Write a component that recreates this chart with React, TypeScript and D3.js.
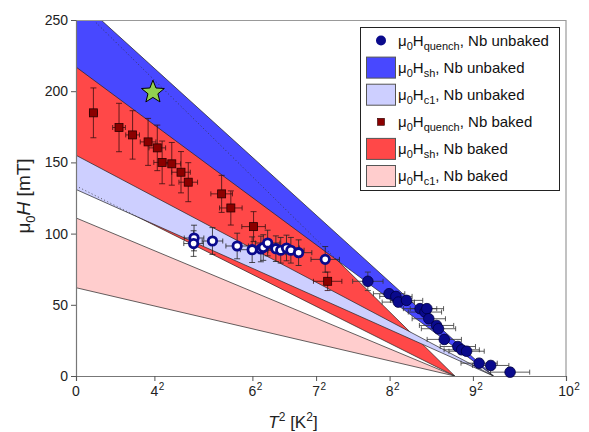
import React, { useRef, useEffect } from "react";
import * as d3 from "d3";

// band edges: H at T=0 (mT) for [lower, upper], converging at Tc^2
const tc2Unbaked = 85.2;
const tc2Baked = 77.3;
const hshUnbaked = [217, 266];
const hc1Unbaked = [131, 155];
const hshBaked = [133.5, 262];
const hc1Baked = [62, 111];

// [T^2, H, xErr, yErr]
const bakedQuench = [
  [3.55, 184.8, 0.8, 17.5],
  [8.78, 174.5, 1.3, 17],
  [11.55, 169.3, 1.4, 17],
  [14.71, 164.4, 1.6, 16.5],
  [16.59, 160.2, 1.7, 16],
  [17.58, 150.0, 1.7, 15],
  [19.55, 149.0, 1.8, 15],
  [21.43, 143.1, 1.9, 14.5],
  [22.91, 136.1, 1.9, 13.7],
  [29.72, 127.9, 2.2, 13],
  [31.6, 118.0, 2.3, 12],
  [36.24, 104.9, 2.4, 10.5],
  [51.36, 66.5, 2.9, 6.5],
];

const unbakedRing = [
  [24.09, 96.9, 2.0, 9],
  [24.0, 93.0, 2.0, 9],
  [27.85, 94.8, 2.1, 9.4],
  [32.89, 91.3, 2.3, 9],
  [35.95, 88.7, 2.4, 9],
  [37.73, 89.2, 2.5, 9],
  [38.22, 90.2, 2.5, 9],
  [39.11, 93.4, 2.5, 9],
  [40.79, 89.4, 2.6, 9],
  [41.78, 88.3, 2.6, 9],
  [42.96, 89.9, 2.6, 9],
  [43.85, 88.3, 2.7, 9],
  [45.43, 86.6, 2.7, 9],
  [50.86, 81.9, 2.9, 9],
];

const unbakedQuench = [
  [59.56, 66.5, 3.1, 6.5],
  [63.9, 57.8, 3.2, 3],
  [65.29, 55.9, 3.3, 3],
  [65.78, 51.9, 3.3, 3],
  [67.46, 53.1, 3.3, 3],
  [70.22, 47.3, 3.4, 3],
  [71.21, 44.9, 3.4, 3],
  [71.61, 47.3, 3.4, 3],
  [72.0, 40.2, 3.4, 3],
  [73.58, 35.5, 3.5, 3],
  [73.98, 33.2, 3.5, 3],
  [75.16, 25.7, 3.5, 3],
  [77.93, 20.7, 3.6, 3],
  [78.72, 18.4, 3.6, 3],
  [79.71, 17.4, 3.6, 3],
  [82.27, 9.0, 3.7, 3],
  [84.64, 7.4, 3.7, 3],
  [88.59, 2.7, 4.0, 3],
];

const starPoint = [15.7, 199.3];

const xTicks = [0, 16, 36, 49, 64, 81, 100];
const xTickBase = ["0", "4", "6", "7", "8", "9", "10"];
const yTicks = [0, 50, 100, 150, 200, 250];

const legendItems = [
  { kind: "circle", sub: "quench", label: ", Nb unbaked", color: "#0a0a8c" },
  { kind: "rect", sub: "sh", label: ", Nb unbaked", color: "#4848ff" },
  { kind: "rect", sub: "c1", label: ", Nb unbaked", color: "#cdcfff" },
  { kind: "square", sub: "quench", label: ", Nb baked", color: "#8b0000" },
  { kind: "rect", sub: "sh", label: ", Nb baked", color: "#ff4848" },
  { kind: "rect", sub: "c1", label: ", Nb baked", color: "#ffcdcd" },
];

const FONT = "'Liberation Sans', Arial, Helvetica, sans-serif";

const App = () => {
  const svgRef = useRef<SVGSVGElement>(null);

  useEffect(() => {
    document.body.style.margin = "0";
    const width = 589;
    const height = 432;
    const svg = d3.select(svgRef.current).attr("width", width).attr("height", height);
    svg.selectAll("*").remove();

    const x = d3.scaleLinear().domain([0, 100]).range([76, 566]);
    const y = d3.scaleLinear().domain([0, 250]).range([376, 20]);

    const defs = svg.append("defs");
    defs.append("clipPath").attr("id", "plotClip")
      .append("rect").attr("x", x(0)).attr("y", y(250))
      .attr("width", x(100) - x(0)).attr("height", y(0) - y(250));

    const tri = (edges, tc2) => [
      [x(0), y(edges[1])],
      [x(tc2), y(0)],
      [x(0), y(edges[0])],
    ];
    const poly = (pts) => "M" + pts.map((p) => p.join(",")).join("L") + "Z";

    defs.append("clipPath").attr("id", "blueClip")
      .append("path").attr("d", poly(tri(hshUnbaked, tc2Unbaked)));
    defs.append("clipPath").attr("id", "lightBlueClip")
      .append("path").attr("d", poly(tri(hc1Unbaked, tc2Unbaked)));

    const g = svg.append("g").attr("clip-path", "url(#plotClip)");

    const band = (edges, tc2, fill) => {
      g.append("path")
        .attr("d", poly(tri(edges, tc2)))
        .attr("fill", fill)
        .attr("stroke", "#222")
        .attr("stroke-width", 0.7);
    };
    // hidden edge of the baked band, shown dotted through the band on top
    const edgeLine = (h0, tc2, clip) => {
      g.append("g").attr("clip-path", `url(#${clip})`)
        .append("line")
        .attr("x1", x(0)).attr("y1", y(h0))
        .attr("x2", x(tc2)).attr("y2", y(0))
        .attr("stroke", "#333")
        .attr("stroke-width", 0.8)
        .attr("stroke-dasharray", "1,2.5");
    };

    band(hshBaked, tc2Baked, "#ff4848");
    band(hshUnbaked, tc2Unbaked, "#4848ff");
    edgeLine(hshBaked[1], tc2Baked, "blueClip");
    band(hc1Unbaked, tc2Unbaked, "#cdcfff");
    edgeLine(hshBaked[0], tc2Baked, "lightBlueClip");
    band(hc1Baked, tc2Baked, "#ffcdcd");

    // frame + axes
    svg.append("line").attr("x1", x(0)).attr("x2", x(100)).attr("y1", 20.5).attr("y2", 20.5)
      .attr("stroke", "#999").attr("stroke-width", 1.2);
    svg.append("line").attr("x1", x(100)).attr("x2", x(100)).attr("y1", 20).attr("y2", 376)
      .attr("stroke", "#999").attr("stroke-width", 1.2);

    const yAxis = svg.append("g").attr("transform", `translate(${x(0)},0)`)
      .call(d3.axisLeft(y).tickValues(yTicks).tickSize(5).tickPadding(3));
    const xAxis = svg.append("g").attr("transform", `translate(0,${y(0)})`)
      .call(d3.axisBottom(x).tickValues(xTicks).tickSize(5).tickPadding(4).tickFormat(() => ""));
    [yAxis, xAxis].forEach((a) => {
      a.select(".domain").attr("stroke", "#777").attr("stroke-width", 1.2);
      a.selectAll(".tick line").attr("stroke", "#555");
    });
    yAxis.selectAll("text").attr("font-family", FONT).attr("font-size", 14).attr("fill", "#222");

    xTicks.forEach((t, i) => {
      const base = svg.append("text")
        .attr("x", x(t)).attr("y", 396)
        .attr("text-anchor", "middle")
        .attr("font-family", FONT).attr("font-size", 14).attr("fill", "#222")
        .text(xTickBase[i]);
      if (i > 0) {
        const w = (base.node() as SVGTextElement).getComputedTextLength();
        svg.append("text")
          .attr("x", x(t) + w / 2 + 0.5).attr("y", 390)
          .attr("font-family", FONT).attr("font-size", 10).attr("fill", "#222")
          .text("2");
      }
    });

    // axis titles
    const xt = svg.append("text")
      .attr("x", 293).attr("y", 428)
      .attr("text-anchor", "middle")
      .attr("font-family", FONT).attr("font-size", 17).attr("fill", "#222");
    xt.append("tspan").attr("font-style", "italic").text("T");
    xt.append("tspan").attr("dy", -7).attr("font-size", 12).text("2");
    xt.append("tspan").attr("dy", 7).text(" [K");
    xt.append("tspan").attr("dy", -7).attr("font-size", 12).text("2");
    xt.append("tspan").attr("dy", 7).text("]");

    const yt = svg.append("text")
      .attr("transform", `translate(30,196) rotate(-90)`)
      .attr("text-anchor", "middle")
      .attr("font-family", FONT).attr("font-size", 19).attr("fill", "#222");
    yt.append("tspan").text("\u03bc");
    yt.append("tspan").attr("dy", 5).attr("font-size", 13).text("0");
    yt.append("tspan").attr("dy", -5).attr("font-style", "italic").text("H");
    yt.append("tspan").text(" [mT]");

    // error bars
    const errBars = (data, color) => {
      const eg = svg.append("g").attr("stroke", color).attr("stroke-width", 0.8).attr("fill", "none");
      data.forEach(([t, h, dx, dy]) => {
        const cx = x(t), cy = y(h);
        const x0 = x(t - dx), x1 = x(t + dx), y0 = y(h - dy), y1 = y(h + dy);
        eg.append("path").attr("d",
          `M${x0},${cy}H${x1}M${x0},${cy - 2.5}V${cy + 2.5}M${x1},${cy - 2.5}V${cy + 2.5}` +
          `M${cx},${y0}V${y1}M${cx - 3},${y0}H${cx + 3}M${cx - 3},${y1}H${cx + 3}`);
      });
    };
    errBars(bakedQuench, "#3a1010");
    errBars(unbakedRing, "#222");
    errBars(unbakedQuench, "#333");

    svg.append("g").selectAll("rect").data(bakedQuench).enter().append("rect")
      .attr("x", (d) => x(d[0]) - 4).attr("y", (d) => y(d[1]) - 4)
      .attr("width", 8).attr("height", 8)
      .attr("fill", "#8b0000").attr("stroke", "#2a0000").attr("stroke-width", 0.8);

    svg.append("g").selectAll("circle").data(unbakedRing).enter().append("circle")
      .attr("cx", (d) => x(d[0])).attr("cy", (d) => y(d[1])).attr("r", 4.2)
      .attr("fill", "#fff").attr("stroke", "#0a0a8c").attr("stroke-width", 2.8);

    svg.append("g").selectAll("circle").data(unbakedQuench).enter().append("circle")
      .attr("cx", (d) => x(d[0])).attr("cy", (d) => y(d[1])).attr("r", 5.3)
      .attr("fill", "#0a0a8c").attr("stroke", "#000040").attr("stroke-width", 0.8);

    // star
    const sx = x(starPoint[0]), sy = y(starPoint[1]);
    const starPts = d3.range(10).map((i) => {
      const r = i % 2 === 0 ? 12 : 5.2;
      const a = -Math.PI / 2 + (i * Math.PI) / 5;
      return [sx + r * Math.cos(a), sy + r * Math.sin(a)];
    });
    svg.append("path").attr("d", poly(starPts))
      .attr("fill", "#92d050").attr("stroke", "#000").attr("stroke-width", 1);

    // legend
    const lg = svg.append("g");
    lg.append("rect").attr("x", 360.5).attr("y", 27.5).attr("width", 199).attr("height", 163)
      .attr("fill", "#fff").attr("stroke", "#222").attr("stroke-width", 1);
    legendItems.forEach((it, i) => {
      const cy = 40.5 + i * 27.1;
      if (it.kind === "circle") {
        lg.append("circle").attr("cx", 381).attr("cy", cy).attr("r", 5).attr("fill", it.color);
      } else if (it.kind === "square") {
        lg.append("rect").attr("x", 377.5).attr("y", cy - 3.5).attr("width", 7).attr("height", 7)
          .attr("fill", it.color).attr("stroke", "#2a0000").attr("stroke-width", 0.6);
      } else {
        lg.append("rect").attr("x", 366.5).attr("y", cy - 10.5).attr("width", 29).attr("height", 21)
          .attr("fill", it.color).attr("stroke", "#555").attr("stroke-width", 1);
      }
      const tx = lg.append("text").attr("x", 398).attr("y", cy + 5)
        .attr("font-family", FONT).attr("font-size", 15).attr("fill", "#111");
      tx.append("tspan").text("\u03bc");
      tx.append("tspan").attr("dy", 4).attr("font-size", 11).text("0");
      tx.append("tspan").attr("dy", -4).text("H");
      tx.append("tspan").attr("dy", 4).attr("font-size", 11).text(it.sub);
      tx.append("tspan").attr("dy", -4).text(it.label);
    });
  }, []);

  return (
    <div>
      <svg ref={svgRef}></svg>
    </div>
  );
};

export default App;
